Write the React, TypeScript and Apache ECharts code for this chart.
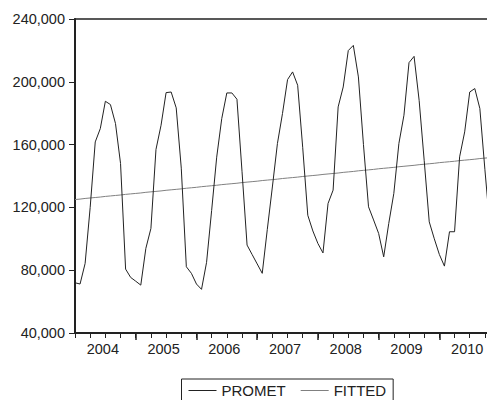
import React, { useEffect, useRef } from "react";
import * as echarts from "echarts";

// Monthly observations, starting 2004M01 (index 0)
const startYear = 2004;
const years = ["2004", "2005", "2006", "2007", "2008", "2009", "2010"];

const promet: number[] = [
  72000, 71200, 84300, 120000, 161700, 170200, 187600, 185500, 173400, 148000, 80700, 75400,
  73000, 70500, 93900, 106600, 156900, 172300, 193100, 193500, 183400, 145000, 82200, 78000,
  71200, 67800, 85000, 118000, 152000, 176600, 192900, 192900, 188900, 143000, 96000, 90000,
  84000, 78000, 106000, 133000, 160700, 179800, 201400, 206300, 197800, 158000, 115000, 105000,
  97000, 91000, 122500, 131000, 184000, 196700, 219900, 223200, 203100, 160000, 120400, 112000,
  103400, 88500, 109800, 128900, 160700, 178700, 212200, 216200, 188200, 150000, 110800, 100000,
  90000, 82600, 104500, 104500, 152200, 168100, 193500, 195700, 183000, 144000, 107000,
];

const fitted: number[] = [
  125000, 125300, 125700, 126000, 126300, 126600, 127000, 127300, 127600, 127900, 128300, 128600,
  128900, 129200, 129600, 129900, 130200, 130500, 130900, 131200, 131500, 131800, 132200, 132500,
  132800, 133200, 133500, 133800, 134100, 134500, 134800, 135100, 135400, 135800, 136100, 136400,
  136700, 137100, 137400, 137700, 138000, 138400, 138700, 139000, 139300, 139700, 140000, 140300,
  140600, 141000, 141300, 141600, 141900, 142300, 142600, 142900, 143300, 143600, 143900, 144200,
  144600, 144900, 145200, 145500, 145900, 146200, 146500, 146800, 147200, 147500, 147800, 148100,
  148500, 148800, 149100, 149400, 149800, 150100, 150400, 150700, 151100, 151400, 151700,
];

const yTicks = [40000, 80000, 120000, 160000, 200000, 240000];

const FONT = "'Liberation Sans', Arial, Helvetica, sans-serif";

export default function App() {
  const ref = useRef<HTMLDivElement>(null);

  useEffect(() => {
    if (!ref.current) return;
    const chart = echarts.init(ref.current, undefined, { renderer: "svg" });

    const monthLabel = (i: number) => {
      const y = startYear + Math.floor(i / 12);
      const m = (i % 12) + 1;
      return `${y}M${m < 10 ? "0" + m : m}`;
    };
    const prometData = promet.map((v, i) => [i, v, monthLabel(i)]);
    const fittedData = fitted.map((v, i) => [i, v, monthLabel(i)]);

    const quarterTicks: number[] = [];
    for (let i = 0; i < promet.length; i += 3) quarterTicks.push(i);
    const yearTicks = years.slice(1).map((_, k) => (k + 1) * 12);
    const yearLabelPos = years.map((_, k) => k * 12 + 5.5);

    chart.setOption({
      animation: false,
      backgroundColor: "#ffffff",
      grid: {
        left: 75,
        top: 19,
        width: 417,
        height: 314,
        outerBoundsMode: "none",
        containLabel: false,
        show: true,
        borderColor: "#222",
        borderWidth: 1.5,
        backgroundColor: "transparent",
      },
      xAxis: [
        {
          type: "value",
          min: 0,
          max: 82.4,
          position: "bottom",
          axisLine: { show: true, lineStyle: { color: "#222", width: 2 } },
          axisTick: {
            show: true,
            customValues: quarterTicks,
            length: 5,
            lineStyle: { color: "#222", width: 1 },
          },
          axisLabel: {
            show: true,
            customValues: yearLabelPos,
            formatter: (v: number) => years[Math.round((v - 5.5) / 12)] ?? "",
            margin: 8,
            color: "#222",
            fontSize: 14.5,
            fontFamily: FONT,
          },
          splitLine: { show: false },
        },
        {
          type: "value",
          min: 0,
          max: 82.4,
          position: "bottom",
          axisLine: { show: false },
          axisTick: {
            show: true,
            customValues: yearTicks,
            length: 7,
            lineStyle: { color: "#222", width: 1.5 },
          },
          axisLabel: { show: false },
          splitLine: { show: false },
        },
      ],
      yAxis: {
        type: "value",
        min: 40000,
        max: 240000,
        interval: 40000,
        axisLine: { show: true, lineStyle: { color: "#222", width: 2 } },
        axisTick: { show: true, length: 6, lineStyle: { color: "#222", width: 1 } },
        axisLabel: {
          margin: 10,
          color: "#222",
          fontSize: 14.5,
          fontFamily: FONT,
          formatter: (v: number) =>
            yTicks.includes(v) ? v.toLocaleString("en-US") : "",
        },
        splitLine: { show: false },
      },
      legend: {
        show: true,
        left: 181.5,
        top: 379,
        orient: "horizontal",
        borderColor: "#222",
        borderWidth: 1,
        padding: [4, 7, 6, 7],
        itemGap: 15,
        itemWidth: 28,
        itemHeight: 1,
        icon: "rect",
        textStyle: { color: "#222", fontSize: 15, fontFamily: FONT },
        data: [
          { name: "PROMET", itemStyle: { color: "#222" } },
          { name: "FITTED", itemStyle: { color: "#808080" } },
        ],
      },
      series: [
        {
          name: "PROMET",
          type: "line",
          xAxisIndex: 0,
          data: prometData,
          showSymbol: false,
          symbol: "none",
          lineStyle: { color: "#222", width: 1 },
          itemStyle: { color: "#222" },
          clip: true,
          z: 3,
        },
        {
          name: "FITTED",
          type: "line",
          xAxisIndex: 0,
          data: fittedData,
          showSymbol: false,
          symbol: "none",
          lineStyle: { color: "#808080", width: 1 },
          itemStyle: { color: "#808080" },
          clip: true,
          z: 2,
        },
      ],
    });

    return () => chart.dispose();
  }, []);

  return (
    <div
      ref={ref}
      style={{ position: "fixed", left: 0, top: 0, width: 487, height: 400, background: "#fff" }}
    />
  );
}
